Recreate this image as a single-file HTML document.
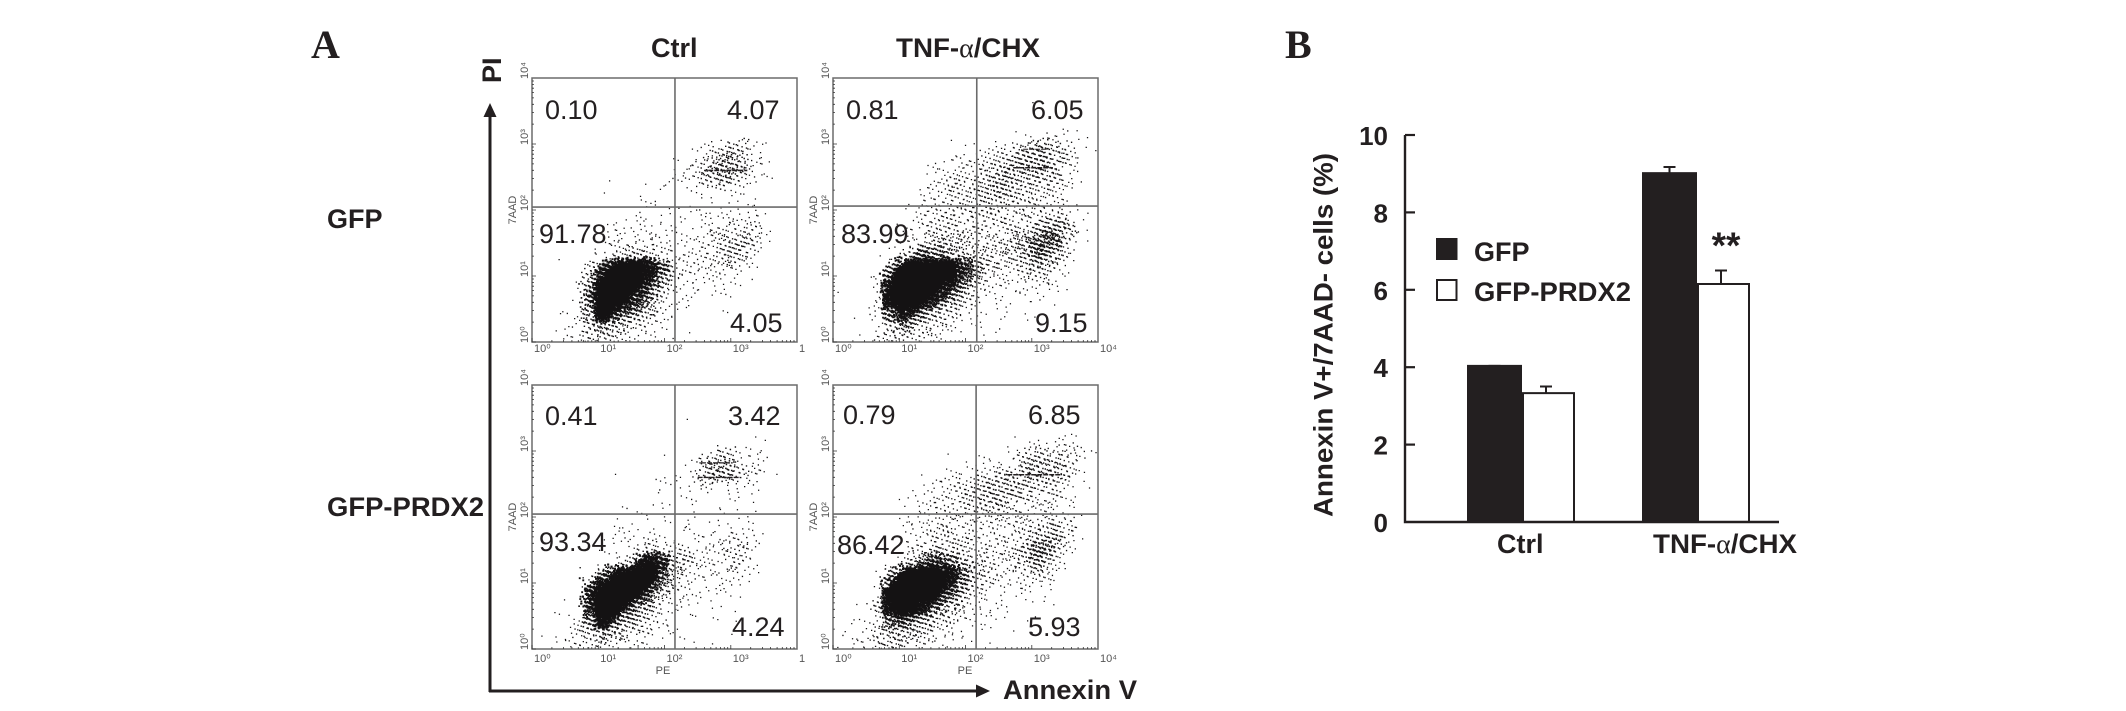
<!DOCTYPE html>
<html lang="en">
<head>
<meta charset="utf-8">
<title>Annexin V flow cytometry and apoptosis bar chart</title>
<style>
html,body{margin:0;padding:0;background:#fff;width:2126px;height:711px;overflow:hidden}
svg{display:block}
text{font-family:"Liberation Sans",sans-serif;fill:#231f20}
.pct{font-size:27px}
.hd{font-size:27px;font-weight:bold}
.panel-letter{font-family:"Liberation Serif",serif;font-size:40px;font-weight:bold}
.small{font-size:11px;fill:#555}
</style>
</head>
<body>
<svg id="fig" width="2126" height="711" viewBox="0 0 2126 711" xmlns="http://www.w3.org/2000/svg">
  <rect width="2126" height="711" fill="#fff"/>
  <g id="panels"></g>

  <text class="panel-letter" x="311" y="58">A</text>
  <text class="panel-letter" x="1285" y="58">B</text>

  <text class="hd" x="651" y="57">Ctrl</text>
  <text class="hd" x="896" y="57" textLength="144" lengthAdjust="spacingAndGlyphs">TNF-<tspan font-family="Liberation Serif" font-weight="normal">α</tspan>/CHX</text>
  <text class="hd" x="327" y="228">GFP</text>
  <text class="hd" x="327" y="516" textLength="157" lengthAdjust="spacingAndGlyphs">GFP-PRDX2</text>

  <text class="hd" transform="translate(501 83) rotate(-90)">PI</text>
  <text class="hd" x="1003" y="699" textLength="134" lengthAdjust="spacingAndGlyphs">Annexin V</text>
  <g>
    <line x1="490" y1="692" x2="490" y2="112" stroke="#231f20" stroke-width="3"/>
    <polygon points="490,103 483.5,117 496.5,117" fill="#231f20"/>
  </g>
  <g>
    <line x1="489" y1="691" x2="980" y2="691" stroke="#231f20" stroke-width="3"/>
    <polygon points="990,691 976,684.5 976,697.5" fill="#231f20"/>
  </g>

  <g>
    <text class="pct" x="545" y="119">0.10</text><text class="pct" x="727" y="119">4.07</text>
    <text class="pct" x="539" y="243">91.78</text><text class="pct" x="730" y="332">4.05</text>
  </g>
  <g>
    <text class="pct" x="846" y="119">0.81</text><text class="pct" x="1031" y="119">6.05</text>
    <text class="pct" x="841" y="243">83.99</text><text class="pct" x="1035" y="332">9.15</text>
  </g>
  <g>
    <text class="pct" x="545" y="425">0.41</text><text class="pct" x="728" y="425">3.42</text>
    <text class="pct" x="539" y="551">93.34</text><text class="pct" x="732" y="636">4.24</text>
  </g>
  <g>
    <text class="pct" x="843" y="424">0.79</text><text class="pct" x="1028" y="424">6.85</text>
    <text class="pct" x="837" y="554">86.42</text><text class="pct" x="1028" y="636">5.93</text>
  </g>

  <text class="small" x="663" y="674" text-anchor="middle">PE</text>
  <text class="small" x="965" y="674" text-anchor="middle">PE</text>

  <g id="bars"></g>

  <text transform="translate(1332.5 517) rotate(-90)" font-size="27" font-weight="bold" textLength="364" lengthAdjust="spacingAndGlyphs">Annexin V+/7AAD- cells (%)</text>
  <rect x="1436" y="238" width="21.5" height="22" fill="#231f20"/>
  <rect x="1437" y="280" width="19.5" height="20" fill="#fff" stroke="#231f20" stroke-width="2"/>
  <text x="1474" y="261" font-size="27" font-weight="bold">GFP</text>
  <text x="1474" y="301" font-size="27" font-weight="bold" textLength="157" lengthAdjust="spacingAndGlyphs">GFP-PRDX2</text>
  <text x="1726" y="258" font-size="37" font-weight="bold" text-anchor="middle">**</text>
  <text class="hd" x="1497" y="553">Ctrl</text>
  <text class="hd" x="1653" y="553" textLength="144" lengthAdjust="spacingAndGlyphs">TNF-<tspan font-family="Liberation Serif" font-weight="normal">α</tspan>/CHX</text>
</svg>

<script>
// Event density per 0.2-decade cell. Rows run top to bottom; keys are columns.
const ctrlGfpDensity = [
{},{},{},{},
{16:2,17:1},
{12:5,13:14,14:22,15:25,16:8,17:1},
{10:1,11:2,12:10,13:22,14:35,15:30,16:8,17:3},
{10:5,11:7,12:12,13:25,14:28,15:20,16:8,17:3},
{5:2,8:2,9:3,12:3,13:4,14:2,15:3,16:2},
{7:1,8:2,9:2,10:1,12:2,13:1,15:3,16:2},
{6:2,7:3,8:3,9:3,10:3,11:3,12:4,13:5,14:5,15:6,16:6,17:3},
{5:2,6:7,7:5,8:5,9:4,10:3,11:3,12:5,13:8,14:12,15:15,16:14,17:4},
{5:5,6:10,7:9,8:8,9:6,10:4,11:4,12:7,13:12,14:18,15:25,16:18,17:3},
{1:1,4:2,5:8,6:15,7:28,8:22,9:12,10:6,11:6,12:10,13:12,14:18,15:20,16:8},
{3:1,4:25,5:120,6:220,7:240,8:160,9:70,10:25,11:5,12:6,13:8,14:10,15:8,16:3},
{3:1,4:50,5:220,6:260,7:240,8:110,9:45,10:12,11:5,12:4,13:5,14:5,15:2},
{3:2,4:70,5:260,6:220,7:110,8:60,9:20,10:5,11:5,12:2,13:2,14:1},
{2:1,3:3,4:45,5:220,6:90,7:55,8:30,9:12,10:3,11:2,13:1,14:1},
{1:1,2:2,3:6,4:25,5:35,6:28,7:18,8:12,9:6,10:2,12:1,14:1},
{2:4,3:8,4:20,5:20,6:12,7:8,8:3,9:1,11:1}
];
const tnfGfpDensity = [
{},
{14:1},
{},
{18:1},
{13:1,14:3,15:6,16:6,17:4,18:2},
{8:1,9:1,10:2,11:6,12:8,13:14,14:28,15:35,16:25,17:14,18:4,19:1},
{7:2,8:6,9:8,10:8,11:15,12:20,13:28,14:30,15:32,16:28,17:12,18:2},
{7:5,8:10,9:14,10:10,11:20,12:30,13:25,14:22,15:24,16:22,17:8,18:3},
{6:3,7:8,8:14,9:14,10:15,11:25,12:30,13:22,14:15,15:15,16:12,17:3},
{6:4,7:7,8:12,9:14,10:14,11:18,12:18,13:14,14:14,15:12,16:10,17:6},
{5:3,6:6,7:10,8:14,9:14,10:12,11:12,12:14,13:10,14:12,15:14,16:18,17:10,18:3},
{5:3,6:8,7:14,8:18,9:14,10:10,11:10,12:12,13:16,14:18,15:30,16:50,17:28,18:4},
{4:1,5:5,6:10,7:24,8:26,9:16,10:14,11:14,12:16,13:24,14:28,15:65,16:55,17:18,18:2},
{3:1,4:3,5:25,6:70,7:60,8:40,9:25,10:18,11:16,12:14,13:16,14:25,15:45,16:30,17:10},
{3:3,4:70,5:240,6:280,7:280,8:220,9:110,10:50,11:18,12:10,13:10,14:16,15:22,16:14,17:3},
{2:1,3:6,4:170,5:280,6:280,7:260,8:130,9:70,10:25,11:8,12:6,13:6,14:5,15:8,16:5,17:2},
{0:1,3:8,4:180,5:280,6:240,7:120,8:60,9:30,10:10,11:6,12:3,13:2,14:2,15:4,16:2},
{2:1,3:6,4:80,5:130,6:60,7:35,8:22,9:12,10:4,11:4,12:4,13:1,14:2,15:1},
{1:1,3:7,4:25,5:40,6:24,7:14,8:10,9:5,10:2,11:2,12:3,14:1},
{2:2,3:8,4:14,5:16,6:12,7:8,8:4,9:1,10:1,11:1}
];
const ctrlPrdx2Density = [
{},{},
{12:1},
{},
{15:1,16:2,17:2},
{9:1,12:4,13:18,14:24,15:8,16:4,17:3},
{10:1,11:3,12:12,13:30,14:38,15:20,16:8,17:3},
{5:1,9:3,10:3,11:2,12:5,13:6,14:4,15:3,16:6,17:1},
{9:3,10:1,11:3,12:3,14:3,15:3,16:2},
{6:2,7:3,8:2,10:2,11:1,13:1,15:1,16:1},
{6:2,7:2,8:1,10:2,11:3,12:2,13:3,14:3,15:3,16:2,17:1},
{5:2,6:5,7:4,8:3,9:4,10:2,11:3,12:4,13:6,14:8,15:10,16:6},
{5:2,6:3,7:3,8:20,9:15,10:12,11:10,12:6,13:6,14:10,15:15,16:6},
{4:1,5:3,6:6,7:35,8:160,9:110,10:35,11:18,12:8,13:5,14:8,15:15,16:5},
{4:15,5:80,6:180,7:240,8:260,9:70,10:20,11:10,12:6,13:5,14:6,15:6,16:2},
{4:100,5:260,6:280,7:270,8:100,9:35,10:12,11:6,12:5,13:4,14:3,15:3},
{2:1,3:1,4:110,5:270,6:170,7:70,8:35,9:18,10:5,11:5,12:3,13:2,14:1,15:1},
{1:1,2:1,3:4,4:60,5:180,6:60,7:35,8:20,9:8,10:3,11:2,13:1,14:1,15:1},
{1:1,2:3,3:10,4:25,5:40,6:25,7:15,8:12,9:5,10:2,11:1,14:1},
{0:1,1:1,2:4,3:10,4:14,5:14,6:10,7:8,8:3,9:2,10:1,11:2,12:1,13:1}
];
const tnfPrdx2Density = [
{},{},{},
{17:1,18:1},
{13:1,14:3,15:4,16:8,17:7,18:4},
{8:1,11:3,12:2,13:4,14:18,15:28,16:18,17:18,18:6,19:1},
{8:2,9:4,10:5,11:8,12:12,13:14,14:25,15:28,16:22,17:20,18:5},
{6:2,7:5,8:8,9:12,10:18,11:24,12:28,13:24,14:18,15:18,16:20,17:8,18:2},
{5:2,6:6,7:8,8:10,9:10,10:16,11:24,12:28,13:18,14:12,15:12,16:10,17:3,18:1},
{5:3,6:4,7:6,8:10,9:12,10:14,11:16,12:14,13:10,14:8,15:8,16:8,17:5,18:1},
{5:3,6:6,7:10,8:12,9:10,10:10,11:10,12:10,13:10,14:10,15:14,16:16,17:14,18:3},
{5:3,6:6,7:12,8:14,9:12,10:10,11:6,12:8,13:10,14:14,15:30,16:30,17:14,18:2},
{5:4,6:12,7:22,8:20,9:14,10:8,11:10,12:12,13:14,14:30,15:55,16:28,17:8},
{4:3,5:16,6:50,7:90,8:70,9:35,10:20,11:14,12:10,13:10,14:16,15:35,16:12,17:2},
{3:1,4:55,5:200,6:280,7:280,8:160,9:60,10:30,11:12,12:8,13:5,14:10,15:14,16:5},
{3:5,4:200,5:280,6:280,7:240,8:90,9:40,10:18,11:6,12:4,13:3,14:3,15:5,16:1},
{2:2,3:20,4:190,5:260,6:160,7:70,8:40,9:18,10:8,11:5,12:5,13:2,14:1,15:2,16:1},
{2:3,3:14,4:70,5:80,6:50,7:28,8:18,9:8,10:4,11:4,12:2,14:1},
{0:1,1:2,2:6,3:14,4:30,5:26,6:20,7:14,8:8,9:4,10:2,11:2,13:1,14:1},
{0:3,1:5,2:6,3:12,4:24,5:16,6:10,7:6,8:3,9:2,10:1,11:1}
];

// Saturated horizontal bands: [log x start, log x end, log y, line weight]
const ctrlGfpStreaks = [[2.66,3.25,2.6,1.6]];
const tnfGfpStreaks = [[2.72,3.32,2.64,1.6],[2.87,3.23,2.92,1]];
const ctrlPrdx2Streaks = [[2.5,3.14,2.6,1.4],[2.55,3.03,2.82,1.2]];
const tnfPrdx2Streaks = [[2.63,3.43,2.64,1.6]];

// Quadrant gates, in log decades
const gateLogX = [2.158,2.17,2.158,2.16];
const gateLogY = [2.045,2.06,2.045,2.045];

const logTickValues = [0,1,2,3,4];
const xTickLabels = ['10⁰','10¹','10²','10³','10⁴'];
const yTickLabels = ['10⁰','10¹','10²','10³','10⁴'];

// Bar chart values
const barCategories = ['Ctrl','TNF-α/CHX'];
const gfpValues = [4.06,9.04];
const gfpErrorTops = [4.06,9.2];
const prdx2Values = [3.33,6.15];
const prdx2ErrorTops = [3.5,6.5];
const barAxisTicks = [0,2,4,6,8,10];

const NS = 'http://www.w3.org/2000/svg';
function mk(tag, attrs, parent){
  const el = document.createElementNS(NS, tag);
  for (const k in attrs) el.setAttribute(k, attrs[k]);
  parent.appendChild(el);
  return el;
}

const panelLayouts = [
  {key:'ctrl-gfp', l:532, r:797, t:78, b:342, density:ctrlGfpDensity, streaks:ctrlGfpStreaks, clipX:true},
  {key:'tnf-gfp', l:833, r:1098, t:78, b:342, density:tnfGfpDensity, streaks:tnfGfpStreaks, clipX:false},
  {key:'ctrl-prdx2', l:532, r:797, t:385, b:649, density:ctrlPrdx2Density, streaks:ctrlPrdx2Streaks, clipX:true},
  {key:'tnf-prdx2', l:833, r:1098, t:385, b:649, density:tnfPrdx2Density, streaks:tnfPrdx2Streaks, clipX:false}
];

const panelRoot = document.getElementById('panels');
const frac = v => v - Math.floor(v);
let ditherIndex = 0;

panelLayouts.forEach(function(p, pi){
  const xScale = v => p.l + (p.r - p.l) * v / 4;
  const yScale = v => p.b - (p.b - p.t) * v / 4;

  const g = mk('g', {}, panelRoot);
  
  

  // events: dot size grows with cell density so population cores render solid with soft edges
  let d = '';
  const cellLog = 0.2;
  p.density.forEach(function(row, ri){
    Object.keys(row).forEach(function(colKey){
      const col = +colKey, count = row[colKey];
      const s = +Math.min(2.1, 1.25 + count / 160).toFixed(2);
      for (let i = 0; i < count; i++){
        ditherIndex++;
        const u1 = frac(0.5 + ditherIndex * 0.8191725), u2 = frac(0.5 + ditherIndex * 0.6710436);
        const u3 = frac(0.5 + ditherIndex * 0.5497005), u4 = frac(0.5 + ditherIndex * 0.4503025);
        const lx = (col + 0.5 + (u1 + u3 - 1) * 1.05) * cellLog;
        const ly = 4 - (ri + 0.5 + (u2 + u4 - 1) * 1.05) * cellLog;
        const px = xScale(lx), py = yScale(ly);
        if (px < p.l || px > p.r - 1 || py < p.t || py > p.b - 1) continue;
        d += 'M' + px.toFixed(1) + ' ' + py.toFixed(1) + 'h' + s + 'v' + s + 'h-' + s + 'z';
      }
    });
  });
  const events = mk('path', {d:d, fill:'#141213'}, g);
  
  

  p.streaks.forEach(function(st){
    const line = mk('line', {x1:xScale(st[0]), x2:xScale(st[1]), y1:yScale(st[2]), y2:yScale(st[2]), stroke:'#231f20', 'stroke-width':st[3], 'stroke-dasharray':'5 1'}, g);
    
    
  });

  // frame and gates
  const frame = mk('rect', {x:p.l, y:p.t, width:p.r-p.l, height:p.b-p.t, fill:'none', stroke:'#6b6b6b', 'stroke-width':1.5}, g);
  
  
  const gv = mk('line', {x1:xScale(gateLogX[pi]), x2:xScale(gateLogX[pi]), y1:p.t, y2:p.b, stroke:'#6b6b6b', 'stroke-width':1.6}, g);
  
  
  const gh = mk('line', {x1:p.l, x2:p.r, y1:yScale(gateLogY[pi]), y2:yScale(gateLogY[pi]), stroke:'#6b6b6b', 'stroke-width':1.6}, g);
  
  

  // log ticks
  let td = '';
  for (let dec = 0; dec < 4; dec++){
    for (let m = 1; m < 10; m++){
      const v = dec + Math.log10(m), len = m === 1 ? 4 : 2;
      td += 'M' + xScale(v).toFixed(1) + ' ' + p.b + 'v-' + len;
      td += 'M' + p.l + ' ' + yScale(v).toFixed(1) + 'h' + len;
    }
  }
  const ticks = mk('path', {d:td, stroke:'#333', 'stroke-width':0.8, fill:'none'}, g);
  
  

  logTickValues.forEach(function(v, i){
    const xt = mk('text', {x:xScale(v) + 2, y:p.b + (p.b < 400 ? 10 : 13), class:'small'}, g);
    
    
    // the left-hand panels run into their neighbours, so 10^4 shows only its leading digit there
    xt.textContent = (p.clipX && i === 4) ? '1' : xTickLabels[i];
    const yt = mk('text', {transform:'translate(' + (p.l - 4) + ' ' + (yScale(v) + 1) + ') rotate(-90)', class:'small'}, g);
    
    
    yt.textContent = yTickLabels[i];
  });
  const yTitle = mk('text', {transform:'translate(' + (p.l - 16) + ' ' + ((p.t + p.b) / 2) + ') rotate(-90)', class:'small', 'text-anchor':'middle'}, g);
  
  
  yTitle.textContent = '7AAD';
});

// Bar chart
const barRoot = document.getElementById('bars');
const yVal = v => 522 - 38.7 * v;
const catX = i => 1522 + 175 * i;

gfpValues.forEach(function(v, i){
  const bar = mk('rect', {x:catX(i) - 55, y:yVal(v), width:55, height:yVal(0) - yVal(v), fill:'#231f20'}, barRoot);
  
  
  const cx = catX(i) - 27.5;
  const e = mk('path', {d:'M' + cx + ' ' + (yVal(v) + 1) + 'V' + (yVal(gfpErrorTops[i]) + 1) + 'm-6 0h12', stroke:'#231f20', 'stroke-width':2, fill:'none'}, barRoot);
  
  
});
prdx2Values.forEach(function(v, i){
  const cx = catX(i) + 24;
  const e = mk('path', {d:'M' + cx + ' ' + yVal(v) + 'V' + yVal(prdx2ErrorTops[i]) + 'm-6 0h12', stroke:'#231f20', 'stroke-width':2, fill:'none'}, barRoot);
  
  
  const bar = mk('rect', {x:catX(i) + 1, y:yVal(v), width:51, height:yVal(0) - yVal(v), fill:'#fff', stroke:'#231f20', 'stroke-width':2}, barRoot);
  
  
});

const barAxis = mk('path', {d:'M1405 ' + yVal(10) + 'V' + yVal(0) + 'H1779', stroke:'#231f20', 'stroke-width':2.4, fill:'none'}, barRoot);


barAxisTicks.forEach(function(v){
  if (v > 0){
    const t = mk('line', {x1:1405, x2:1415, y1:yVal(v), y2:yVal(v), stroke:'#231f20', 'stroke-width':2.2}, barRoot);
    
    
  }
  const lab = mk('text', {x:1388, y:yVal(v) + 10, 'text-anchor':'end', 'font-size':26, 'font-weight':'bold'}, barRoot);
  
  
  lab.textContent = String(v);
});
</script>
</body>
</html>
